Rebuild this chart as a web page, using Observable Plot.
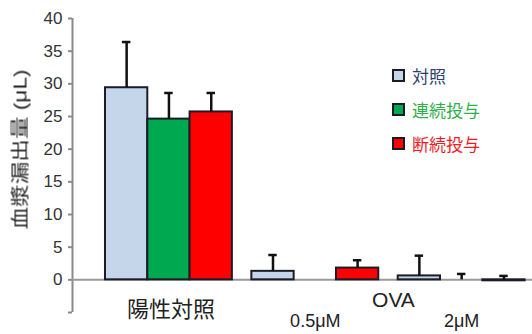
<!DOCTYPE html>
<html>
<head>
<meta charset="utf-8">
<script src="https://cdn.jsdelivr.net/npm/d3@7"></script>
<script src="https://cdn.jsdelivr.net/npm/@observablehq/plot@0.6"></script>
<style>
  body { margin: 0; background: #fff; }
  #chart { position: relative; width: 532px; height: 334px; font-family: "Liberation Sans", "Noto Sans CJK JP", sans-serif; }
  #chart svg { overflow: visible; }
  .legend { position: absolute; left: 392px; top: 58px; }
  .legend .row { display: flex; align-items: center; height: 34px; font-size: 17px; }
  .legend .sw { width: 9px; height: 9px; border: 2px solid #1c1c28; margin-right: 7px; }
</style>
</head>
<body>
<div id="chart"></div>
<script>
// Plasma leakage (μL): mean and upper error for each treatment, per condition
const groups = ["陽性対照", "0.5μM", "2μM"];
const series = ["対照", "連続投与", "断続投与"];
const controlMean = [29.4, 1.3, 0.6];
const controlErr = [7.0, 2.5, 3.1];
const continuousMean = [24.6, 0, 0];
const continuousErr = [4.0, 0, 0.9];
const intermittentMean = [25.7, 1.8, -0.15];
const intermittentErr = [2.9, 1.2, 0.75];
const yTicks = [-5, 0, 5, 10, 15, 20, 25, 30, 35, 40];
const groupTitle = "OVA";
const yLabel = "血漿漏出量 (μL)";

const fills = ["#c5d5ea", "#00a84f", "#ff0000"];
const legendText = ["#2e3f73", "#2fae4a", "#ee1c24"];

// bar layout in bar-width units along a linear x scale
const offset = 0.78, step = 3.46;
const means = [controlMean, continuousMean, intermittentMean];
const errs = [controlErr, continuousErr, intermittentErr];
const rows = [];
groups.forEach((g, gi) => series.forEach((s, si) => {
  const x1 = offset + gi * step + si;
  rows.push({group: g, series: s, x1, x2: x1 + 1, xc: x1 + 0.5,
             value: means[si][gi], err: errs[si][gi]});
}));
const labelRows = groups.map((g, gi) => ({label: g, x: offset + gi * step + 1.5}));

const plot = Plot.plot({
  width: 532,
  height: 334,
  marginLeft: 72,
  marginRight: 0,
  marginTop: 18,
  marginBottom: 22,
  style: {fontFamily: '"Liberation Sans", "Noto Sans CJK JP", sans-serif', background: "transparent"},
  x: {domain: [0, 460 / 42.3], axis: null},
  y: {domain: [-5, 40], axis: null},
  color: {domain: series, range: fills},
  marks: [
    Plot.axisY({ticks: yTicks, label: null, tickSize: 4, tickPadding: 6, stroke: "#8a8a8a", strokeWidth: 2,
      fill: "#333", fontSize: 17, tickFormat: d => d < 0 ? "" : d}),
    Plot.ruleX([0], {y1: -5, y2: 40, stroke: "#8a8a8a", strokeWidth: 2}),
    Plot.ruleY([0], {stroke: "#9a9a9a", strokeWidth: 2}),
    Plot.rectY(rows.filter(d => d.value !== 0), {x1: "x1", x2: "x2", y1: 0, y2: "value",
      fill: "series", stroke: "#1c1c28", strokeWidth: 2}),
    Plot.ruleX(rows.filter(d => d.err > 0), {x: "xc", y1: "value", y2: d => d.value + d.err,
      stroke: "#111", strokeWidth: 2.5}),
    Plot.ruleY(rows.filter(d => d.err > 0), {y: d => d.value + d.err, x1: d => d.xc - 0.1, x2: d => d.xc + 0.1,
      stroke: "#111", strokeWidth: 2.5}),
    Plot.text(labelRows.slice(0, 1), {x: "x", text: "label", frameAnchor: "bottom", dx: 2, dy: 4, fontSize: 22, fill: "#222"}),
    Plot.text(labelRows.slice(1), {x: "x", text: "label", frameAnchor: "bottom", dy: 14, fontSize: 18, fill: "#222"}),
    Plot.text([groupTitle], {x: offset + 1.5 * step + 1.5, text: d => d, frameAnchor: "bottom", dx: 5, dy: -6, fontSize: 21, fill: "#222"}),
    Plot.text([yLabel], {text: d => d, frameAnchor: "left", textAnchor: "middle", rotate: -90,
      dx: -52, dy: -16, fontSize: 18, fill: "#222", fillOpacity: 0.99})
  ]
});

// the axis title is drawn with wide glyphs along its full length
d3.select(plot).selectAll("text").filter(function() { return this.textContent === yLabel; })
  .attr("textLength", 160).attr("lengthAdjust", "spacingAndGlyphs")
  .style("will-change", "transform");

const chart = document.getElementById("chart");
chart.appendChild(plot);

// legend overlaid in the upper right of the plot area
const legend = d3.select(chart).append("div").attr("class", "legend");
series.forEach((s, i) => {
  const row = legend.append("div").attr("class", "row");
  row.append("div").attr("class", "sw").style("background", fills[i]);
  row.append("span").style("color", legendText[i]).text(s);
});
</script>
</body>
</html>
